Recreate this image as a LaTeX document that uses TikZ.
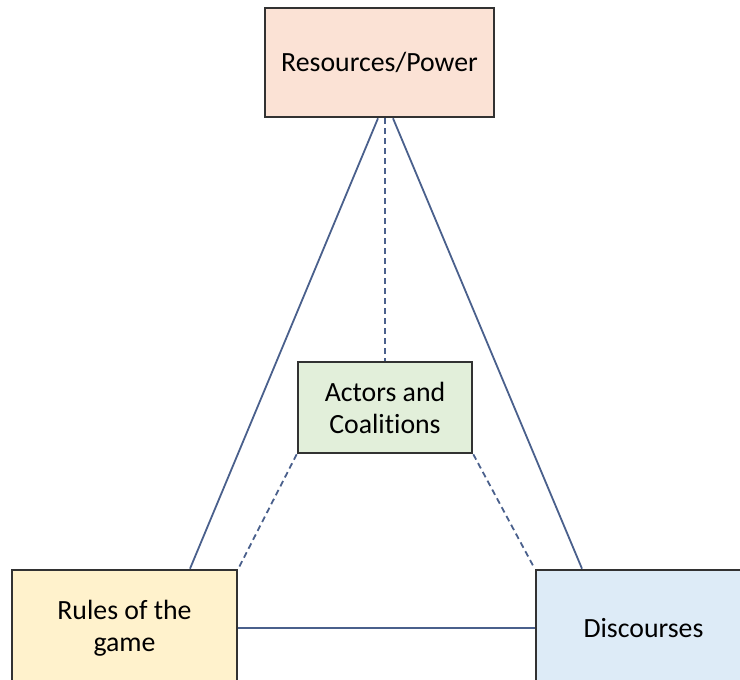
\documentclass[tikz,border=0pt]{standalone}
\usepackage{fontspec}
\setmainfont{Carlito}[Ligatures=NoCommon]
\usetikzlibrary{positioning, calc}
\definecolor{linkblue}{RGB}{74,96,140}
\definecolor{boxline}{RGB}{50,50,50}
\definecolor{peach}{RGB}{251,226,213}
\definecolor{palegreen}{RGB}{226,239,218}
\definecolor{paleyellow}{RGB}{255,242,204}
\definecolor{paleblue}{RGB}{221,235,247}
\tikzset{
    factor/.style={draw=boxline, line width=1.3pt, align=center, inner sep=0pt,
      font=\fontsize{13.9}{16}\selectfont},
    link/.style={draw=linkblue, line width=0.9pt},
    dashedlink/.style={link, dash pattern=on 3pt off 2pt},
}

\begin{document}
\begin{tikzpicture}[x=0.5pt, y=-0.5pt]
    \useasboundingbox (0,0) rectangle (740,680);
    \clip (0,0) rectangle (740,680);

    \node[factor, fill=peach, minimum width=114.5pt, minimum height=54.5pt] (res) at (379.5,62.5) {Resources/Power};
    \node[factor, fill=palegreen, minimum width=87pt, minimum height=45.5pt] (act) at (385,407.5) {Actors and\\Coalitions};
    \node[factor, fill=paleyellow, minimum width=112.5pt, minimum height=58pt] (rules) at (124.5,628) {Rules of the\\game};
    \node[factor, fill=paleblue, minimum width=112.5pt, minimum height=58pt] (disc) at (648.5,628) {Discourses\hspace*{5pt}};

    \draw[link] ($(res.south)+(-1.5,0)$) -- ($(rules.north)+(65.5,0)$);
    \draw[link] ($(res.south)+(13.5,0)$) -- ($(disc.north)+(-66.5,0)$);
    \draw[link] (rules.east) -- (disc.west);
    \draw[dashedlink] (act.north |- res.south) -- (act.north);
    \draw[dashedlink] (act.south west) -- (rules.north east);
    \draw[dashedlink] (act.south east) -- (disc.north west);
\end{tikzpicture}
\end{document}
